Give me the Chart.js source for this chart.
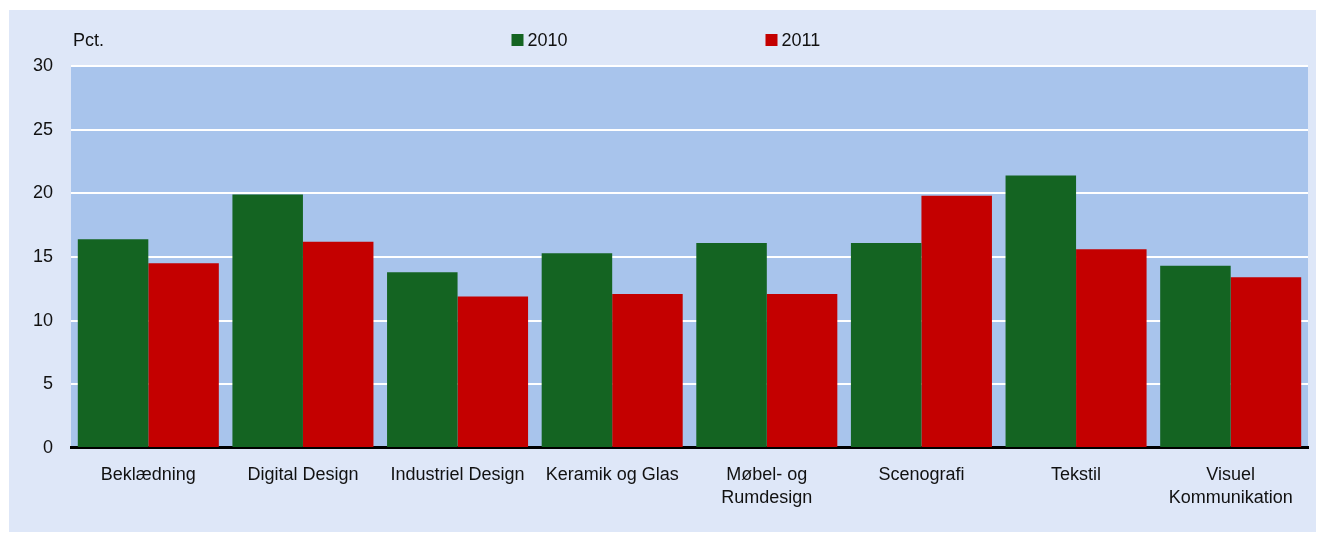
<!DOCTYPE html>
<html>
<head>
<meta charset="utf-8">
<script src="https://cdn.jsdelivr.net/npm/chart.js@4.4.1/dist/chart.umd.min.js"></script>
<style>
  html, body { margin: 0; padding: 0; background: #ffffff; }
  #panel {
    position: absolute; left: 9px; top: 10px;
    width: 1307px; height: 522px;
    background: #dee7f8;
  }
</style>
</head>
<body>
<div id="panel"><canvas id="grafico" width="1307" height="522"></canvas></div>
<script>
// Data
const kategorier = [
  "Beklædning", "Digital Design", "Industriel Design", "Keramik og Glas",
  ["Møbel- og", "Rumdesign"], "Scenografi", "Tekstil", ["Visuel", "Kommunikation"]
];
const aar = ["2010", "2011"];
const vaerdier2010 = [16.4, 19.9, 13.8, 15.3, 16.1, 16.1, 21.4, 14.3];
const vaerdier2011 = [14.5, 16.2, 11.9, 12.1, 12.1, 19.8, 15.6, 13.4];
const yTicks = [0, 5, 10, 15, 20, 25, 30];
const enhed = "Pct.";

const GRON = "#146422";
const ROD = "#c40000";
const FONT = "'Liberation Sans', Arial, sans-serif";

// Baggrund i plotområdet + legend + "Pct."
const pynt = {
  id: "pynt",
  beforeDraw(chart) {
    const { ctx, chartArea: a } = chart;
    ctx.save();
    ctx.fillStyle = "#a8c4ec";
    ctx.fillRect(a.left, a.top, a.right - a.left, a.bottom - a.top);
    ctx.restore();
  },
  afterDraw(chart) {
    const { ctx, chartArea: a } = chart;
    ctx.save();
    ctx.font = "18px " + FONT;
    ctx.fillStyle = "#111";
    ctx.textBaseline = "middle";
    ctx.textAlign = "left";
    ctx.fillText(enhed, a.left + 2, 31);

    const x1 = chart.width / 2 - 151;
    const pos = [x1, x1 + 254];
    chart.data.datasets.forEach((ds, i) => {
      ctx.fillStyle = ds.backgroundColor;
      ctx.fillRect(pos[i], 24, 12, 12);
      ctx.fillStyle = "#111";
      ctx.fillText(ds.label, pos[i] + 16, 31);
    });
    ctx.restore();
  }
};

new Chart(document.getElementById("grafico"), {
  type: "bar",
  data: {
    labels: kategorier,
    datasets: [
      { label: aar[0], data: vaerdier2010, backgroundColor: GRON },
      { label: aar[1], data: vaerdier2011, backgroundColor: ROD }
    ]
  },
  options: {
    responsive: false,
    animation: false,
    layout: { padding: { top: 56, right: 8, left: 0, bottom: 6 } },
    datasets: { bar: { categoryPercentage: 0.912, barPercentage: 1.0 } },
    plugins: {
      legend: { display: false },
      tooltip: { enabled: false }
    },
    scales: {
      x: {
        grid: { display: false, drawTicks: false },
        border: { display: true, color: "#000", width: 3 },
        ticks: {
          color: "#111",
          padding: 16,
          maxRotation: 0,
          autoSkip: false,
          font: { family: FONT, size: 18, lineHeight: 1.28 }
        }
      },
      y: {
        min: 0, max: 30,
        afterBuildTicks: (s) => { s.ticks = yTicks.map(v => ({ value: v })); },
        afterFit: (s) => { s.width = 62; },
        grid: {
          color: (c) => c.tick && c.tick.value === 0 ? "rgba(0,0,0,0)" : "#ffffff",
          lineWidth: 2,
          drawTicks: false
        },
        border: { display: false },
        ticks: {
          color: "#111",
          padding: 18,
          font: { family: FONT, size: 18 }
        }
      }
    }
  },
  plugins: [pynt]
});
</script>
</body>
</html>
